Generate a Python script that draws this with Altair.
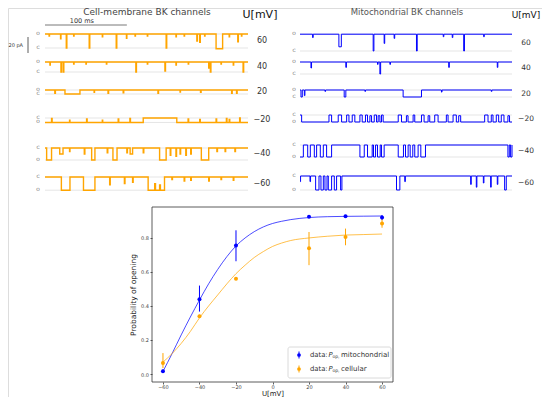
import altair as alt
import pandas as pd

# ------------------------------------------------------------------ data
# single-channel traces: (start ms, duration ms, fraction of the way to the other level)
cell_labels = ["60", "40", "20", "\u221220", "\u221240", "\u221260"]
cell_open_pA = [17.5, 12.5, 5.0, -5.6, -15.0, -16.5]
cell_base = ["O", "O", "O", "O", "C", "C"]
cell_duration_ms = 248
cell_ev_60 = [(5, 0.5, 0.15), (19, 0.5, 0.35), (26, 0.7, 1.0), (35, 0.5, 0.15), (54, 0.7, 1.0), (70, 0.5, 0.2),
              (87, 0.7, 1.0), (99.5, 0.5, 0.3), (110, 0.5, 0.15), (125, 0.5, 0.15), (148, 0.7, 1.0),
              (160, 0.5, 0.2), (170, 0.5, 0.15), (185.5, 0.7, 0.5), (189, 0.7, 0.6), (195, 0.5, 0.15),
              (209, 8, 1.05), (225, 0.5, 0.2), (235.5, 0.7, 0.55), (240, 0.5, 0.15)]
cell_ev_40 = [(6, 0.5, 0.3), (19.5, 0.7, 1.0), (22.3, 0.7, 1.0), (35, 0.5, 0.2), (50, 0.5, 0.2), (75, 0.5, 0.2),
              (111, 0.7, 1.0), (125, 0.5, 0.2), (146.5, 0.7, 0.9), (160, 0.5, 0.3), (175, 0.5, 0.2),
              (200, 0.7, 0.6), (202, 0.7, 1.0), (215, 0.5, 0.2), (230, 0.5, 0.3), (242, 0.7, 1.0)]
cell_ev_20 = [(12, 0.7, 0.8), (24.4, 18.3, 1.0), (60, 0.5, 0.6), (77, 0.7, 0.8), (95.5, 0.7, 0.7),
              (138, 0.7, 0.8), (165, 0.5, 0.5), (190, 0.7, 0.6), (228, 0.7, 0.8), (234, 0.7, 0.8)]
cell_ev_m20 = [(8, 0.7, 0.9), (30, 0.5, 0.5), (50.8, 0.7, 0.8), (70, 0.5, 0.5), (89.4, 0.7, 0.8),
               (103.7, 0.7, 0.9), (120, 41, 1.0), (174.8, 0.7, 0.8), (189, 0.7, 0.7), (209, 0.7, 0.8),
               (221.6, 0.7, 0.9), (225, 0.7, 0.7), (237.8, 0.7, 1.0)]
cell_ev_m40 = [(2, 6, 1.0), (18, 4, 0.5), (30, 0.5, 0.3), (48, 0.7, 0.5), (57, 4, 1.0), (76, 0.7, 0.4),
               (83, 5, 1.0), (100, 0.7, 0.4), (104, 3, 0.5), (120, 0.7, 0.4), (140, 8, 1.0), (153, 0.7, 0.6),
               (160, 0.7, 0.7), (165, 0.7, 0.5), (172, 0.7, 0.6), (178, 0.7, 0.5), (191, 9, 1.0),
               (210, 0.7, 0.3), (220, 0.7, 0.3), (232, 0.7, 0.3)]
cell_ev_m60 = [(20, 10.5, 1.0), (47, 14, 1.0), (79, 0.7, 0.6), (97, 0.7, 0.5), (107, 0.7, 0.4), (126, 8, 1.0),
               (134, 1, 0.5), (135, 5, 1.0), (140, 1, 0.6), (141, 5, 1.0), (155, 0.7, 0.2), (170, 0.7, 0.3),
               (178, 0.7, 0.25), (200, 0.7, 0.3), (215, 0.7, 0.2), (230, 0.7, 0.25)]
cell_events = [cell_ev_60, cell_ev_40, cell_ev_20, cell_ev_m20, cell_ev_m40, cell_ev_m60]

mito_labels = ["60", "40", "20", "\u221220", "\u221240", "\u221260"]
mito_open_pA = [21.0, 15.0, 8.75, -8.75, -15.0, -17.5]
mito_base = ["O", "O", "O", "O", "C", "C"]
mito_duration_ms = 259
mito_ev_60 = [(15.4, 0.7, 0.2), (47.5, 3, 0.75), (89.4, 0.9, 1.0), (102.8, 0.7, 0.55), (115, 0.7, 0.25),
              (142.3, 0.9, 1.0), (175, 0.7, 0.15), (186, 0.7, 0.2), (200, 0.9, 1.0), (224.4, 0.7, 0.15)]
mito_ev_40 = [(13.4, 0.7, 0.5), (56, 0.7, 0.45), (94.7, 0.7, 0.2), (97.6, 0.9, 1.0), (109.8, 0.7, 0.2),
              (181.7, 0.7, 0.45), (241, 0.7, 0.45)]
mito_ev_20 = [(1.2, 1.6, 1.0), (5.3, 0.7, 0.8), (30.5, 0.7, 0.2), (54, 2, 1.0), (79.3, 0.7, 0.2),
              (126, 22.4, 1.0), (172.8, 0.7, 0.3), (233.7, 0.7, 0.2)]
mito_ev_m20 = [(0, 2, 1.0), (35.4, 3.2, 1.0), (46.7, 4.1, 1.0), (57, 2.8, 1.0), (63.8, 3.2, 1.0), (73.2, 2.8, 1.0),
               (80, 2.5, 1.0), (85.4, 2, 0.9), (90.7, 2.8, 1.0), (95.5, 2.1, 0.9), (99.6, 2, 1.0), (120, 4, 1.0),
               (130, 2, 0.9), (138.2, 2, 1.0), (148.4, 3.2, 1.0), (156.5, 2, 0.9), (164.6, 4.1, 1.0),
               (178.8, 2.1, 1.0), (187, 4, 1.0), (193.9, 2.4, 0.9), (225.6, 4.1, 1.0), (233.7, 2.1, 1.0),
               (239.8, 2.9, 1.0), (245.9, 3.3, 1.0), (254, 2, 0.9)]
mito_ev_m40 = [(0, 4.1, 1.0), (9.4, 3.2, 1.0), (17.5, 2.8, 1.0), (24.8, 3.7, 1.0), (32.5, 6.1, 1.0),
               (73.2, 5.3, 1.0), (82.5, 5.7, 1.0), (89.8, 2.5, 1.0), (94.7, 3.3, 1.0), (99.6, 3.2, 1.0),
               (120, 6.4, 1.0), (128.9, 3.2, 1.0), (134.6, 3.2, 1.0), (140.2, 4.1, 1.0), (147.6, 5.7, 1.0),
               (254, 1.7, 1.0), (257.3, 1.7, 1.0)]
mito_ev_m60 = [(0, 0.7, 0.4), (12.2, 0.7, 0.4), (19.1, 4.1, 1.0), (25.6, 2.9, 1.0), (30.5, 2.5, 1.0),
               (34.6, 4, 1.0), (41.9, 2.8, 1.0), (49.6, 1.6, 1.0), (117.9, 4.1, 1.0), (128, 0.7, 0.4),
               (208.5, 0.7, 0.6), (215.4, 0.7, 0.8), (224, 0.7, 0.5), (232.9, 0.7, 0.8), (241, 0.7, 0.6),
               (250, 2, 1.0)]
mito_events = [mito_ev_60, mito_ev_40, mito_ev_20, mito_ev_m20, mito_ev_m40, mito_ev_m60]

# open probability vs voltage
volt_mV = [-60, -40, -20, 20, 40, 60]
p_mito = [0.016, 0.44, 0.755, 0.925, 0.928, 0.92]
p_mito_lo = [0.006, 0.367, 0.663, 0.918, 0.922, 0.905]
p_mito_hi = [0.026, 0.52, 0.845, 0.932, 0.934, 0.935]
p_cell = [0.065, 0.34, 0.56, 0.74, 0.805, 0.885]
p_cell_lo = [0.035, 0.332, 0.552, 0.64, 0.757, 0.86]
p_cell_hi = [0.123, 0.348, 0.568, 0.835, 0.855, 0.91]
fit_v = [-60, -55, -50, -45, -40, -35, -30, -25, -20, -15, -10, -5, 0, 5, 10, 20, 30, 40, 50, 60]
fit_mito = [0.015, 0.12, 0.23, 0.335, 0.435, 0.53, 0.615, 0.69, 0.753, 0.80, 0.837, 0.865, 0.885, 0.898,
            0.908, 0.92, 0.925, 0.927, 0.928, 0.929]
fit_cell = [0.07, 0.12, 0.18, 0.25, 0.33, 0.40, 0.465, 0.53, 0.59, 0.64, 0.685, 0.72, 0.75, 0.77, 0.785,
            0.80, 0.81, 0.817, 0.82, 0.823]

# ------------------------------------------------------------------ layout / style
FONT = "DejaVu Sans"
ORANGE = "#FFA500"
BLUE = "#0000FF"
PX_PER_PA = 0.8
cell_x_range = [37, 240]
mito_x_range = [292, 504]
cell_closed_y = [40, 64, 86, 110, 140, 169]
mito_closed_y = [43, 66, 89, 107, 137, 168]


def steps(events, duration, i_open, base):
    lev = {"O": i_open, "C": 0.0}
    b = lev[base]
    a = lev["C" if base == "O" else "O"]
    pts = {0.0: b}
    for s, d, f in sorted(events):
        pts[float(s)] = b + f * (a - b)
        pts[float(s + d)] = b
    pts[float(duration)] = b
    ts = sorted(pts)
    return pd.DataFrame({"t": ts, "i": [pts[t] for t in ts]})


def trace_row(events, duration, i_open, base, label, color, width, xr, cy, lab_x, volt_x, volt_size,
              extra=None):
    xs = alt.Scale(domain=[0, duration], range=xr, nice=False, zero=False)
    ys = alt.Scale(domain=[0, 20], range=[cy, cy - 20 * PX_PER_PA], nice=False, zero=False)
    lv = pd.DataFrame({"t0": [0, 0], "t1": [duration, duration], "lev": [i_open, 0.0], "lab": ["O", "C"]})
    grid = alt.Chart(lv).mark_rule(color="#dedede", strokeWidth=0.8).encode(
        x=alt.X("t0:Q", scale=xs, axis=None), x2="t1:Q", y=alt.Y("lev:Q", scale=ys, axis=None))
    line = alt.Chart(steps(events, duration, i_open, base)).mark_line(
        interpolate="step-after", color=color, strokeWidth=width).encode(
        x=alt.X("t:Q", scale=xs, axis=None), y=alt.Y("i:Q", scale=ys, axis=None))
    oc = alt.Chart(lv).mark_text(font=FONT, fontSize=4.5, color="#666", align="center", baseline="middle").encode(
        x=alt.value(lab_x), y=alt.Y("lev:Q", scale=ys, axis=None), text="lab:N")
    vl = alt.Chart(pd.DataFrame({"mid": [i_open / 2], "lab": [label]})).mark_text(
        font=FONT, fontSize=volt_size, color="#333", align="center", baseline="middle").encode(
        x=alt.value(volt_x), y=alt.Y("mid:Q", scale=ys, axis=None), text="lab:N")
    parts = [grid, line, oc, vl]
    if extra:
        parts += extra(xs, ys)
    return alt.layer(*parts)


def scale_bars(xs, ys):
    tb = alt.Chart(pd.DataFrame({"a": [0], "b": [100]})).mark_rule(color="#555", strokeWidth=0.8).encode(
        x=alt.X("a:Q", scale=xs, axis=None), x2="b:Q", y=alt.value(17))
    tt = alt.Chart(pd.DataFrame({"m": [45], "lab": ["100 ms"]})).mark_text(
        font=FONT, fontSize=6.5, color="#333", baseline="middle").encode(
        x=alt.X("m:Q", scale=xs, axis=None), y=alt.value(12.5), text="lab:N")
    pb = alt.Chart(pd.DataFrame({"a": [-6.25], "b": [13.75]})).mark_rule(color="#333", strokeWidth=0.8).encode(
        x=alt.value(20), y=alt.Y("a:Q", scale=ys, axis=None), y2="b:Q")
    pt = alt.Chart(pd.DataFrame({"m": [3.75], "lab": ["20 pA"]})).mark_text(
        font=FONT, fontSize=5, color="#333", align="right", baseline="middle").encode(
        x=alt.value(15), y=alt.Y("m:Q", scale=ys, axis=None), text="lab:N")
    return [tb, tt, pb, pt]


layers = []
for k in range(6):
    layers.append(trace_row(cell_events[k], cell_duration_ms, cell_open_pA[k], cell_base[k], cell_labels[k],
                            ORANGE, 1.4, cell_x_range, cell_closed_y[k], 30, 254, 8,
                            extra=scale_bars if k == 0 else None))
for k in range(6):
    layers.append(trace_row(mito_events[k], mito_duration_ms, mito_open_pA[k], mito_base[k], mito_labels[k],
                            BLUE, 1.0, mito_x_range, mito_closed_y[k], 286, 518, 7.5))


# ---- titles
def txt(s, x, y, size, color, weight="normal"):
    return alt.Chart(alt.Data(values=[{}])).mark_text(
        text=s, font=FONT, fontSize=size, color=color, fontWeight=weight, align="center",
        baseline="middle").encode(x=alt.value(x), y=alt.value(y))


layers += [txt("Cell-membrane BK channels", 139, 4, 9, "#444"),
           txt("U[mV]", 252, 7, 11, "#111"),
           txt("Mitochondrial BK channels", 399, 4, 8.5, "#555"),
           txt("U[mV]", 518, 7, 9, "#111")]

# ---- open probability plot
xsb = alt.Scale(domain=[-66, 66], range=[144, 385], nice=False, zero=False)
ysb = alt.Scale(domain=[-0.047, 0.982], range=[374, 199], nice=False, zero=False)
ax_common = dict(grid=False, domain=False, tickSize=2, tickColor="#333", tickWidth=0.8, labelFontSize=5,
                 labelColor="#444", titleFontWeight="normal", titleColor="#222", labelFont=FONT, titleFont=FONT)
xax = alt.Axis(values=[-60, -40, -20, 0, 20, 40, 60], title="U[mV]", orient="bottom", offset=-15,
               labelPadding=0.5, titleFontSize=7, titleY=11.5, titleBaseline="middle", **ax_common)
yax = alt.Axis(values=[0, 0.2, 0.4, 0.6, 0.8], format=".1f", title="Probability of opening", orient="left",
               offset=-144, labelPadding=1.5, titleFontSize=7.5, titlePadding=3, **ax_common)

pts = pd.DataFrame({
    "v": volt_mV * 2,
    "p": p_mito + p_cell,
    "lo": p_mito_lo + p_cell_lo,
    "hi": p_mito_hi + p_cell_hi,
    "s": ["mito"] * 6 + ["cell"] * 6,
})
fits = pd.DataFrame({"v": fit_v * 2, "p": fit_mito + fit_cell, "s": ["mito"] * len(fit_v) + ["cell"] * len(fit_v)})
col = alt.Color("s:N", scale=alt.Scale(domain=["mito", "cell"], range=[BLUE, ORANGE]), legend=None)

frame = alt.Chart(pd.DataFrame({"x0": [-66], "x1": [66], "y0": [-0.047], "y1": [0.982]})).mark_rect(
    filled=False, stroke="#333", strokeWidth=0.8).encode(
    x=alt.X("x0:Q", scale=xsb, axis=xax), x2="x1:Q", y=alt.Y("y0:Q", scale=ysb, axis=yax), y2="y1:Q")
fit_lines = alt.Chart(fits).mark_line(interpolate="monotone", strokeWidth=1, opacity=0.7).encode(
    x=alt.X("v:Q", scale=xsb, axis=xax), y=alt.Y("p:Q", scale=ysb, axis=yax), color=col, detail="s:N")
err = alt.Chart(pts).mark_rule(strokeWidth=1).encode(
    x=alt.X("v:Q", scale=xsb, axis=xax), y=alt.Y("lo:Q", scale=ysb, axis=yax), y2="hi:Q", color=col)
dots = alt.Chart(pts).mark_circle(size=16, opacity=1).encode(
    x=alt.X("v:Q", scale=xsb, axis=xax), y=alt.Y("p:Q", scale=ysb, axis=yax), color=col)
plot = alt.layer(frame, fit_lines, err, dots)
layers.append(plot)

# ---- legend (drawn by hand to get the subscript)
leg_box = alt.Chart(alt.Data(values=[{}])).mark_rect(fill="white", stroke="#d0d0d0", strokeWidth=0.8,
                                                     cornerRadius=2).encode(
    x=alt.value(280), x2=alt.value(383), y=alt.value(339), y2=alt.value(370))
layers.append(leg_box)
for yy, c, name in [(347, BLUE, "mitochondrial"), (361, ORANGE, "cellular")]:
    layers.append(alt.Chart(alt.Data(values=[{}])).mark_rule(color=c, strokeWidth=1).encode(
        x=alt.value(291), y=alt.value(yy - 3.5), y2=alt.value(yy + 3.5)))
    layers.append(alt.Chart(alt.Data(values=[{}])).mark_circle(color=c, size=14, opacity=1).encode(
        x=alt.value(291), y=alt.value(yy)))
    for s, x, dy, size, style in [("data:", 302, 0, 6.8, "normal"), ("P", 320.5, 0, 6.8, "italic"),
                                  ("op,", 324.5, 1.8, 4.5, "normal"), (name, 333, 0, 7, "normal")]:
        layers.append(alt.Chart(alt.Data(values=[{}])).mark_text(
            text=s, font=FONT, fontSize=size, fontStyle=style, color="#333", align="left",
            baseline="middle").encode(x=alt.value(x), y=alt.value(yy + dy)))

chart = alt.layer(*layers).resolve_scale(x="independent", y="independent").properties(
    width=534, height=389, padding=0, autosize=alt.AutoSizeParams(type="none")
).configure_view(stroke=None).configure(font=FONT)

chart.save("out.html", embed_options={"renderer": "svg", "actions": False})
